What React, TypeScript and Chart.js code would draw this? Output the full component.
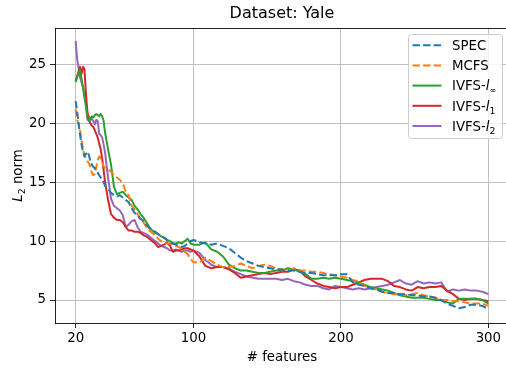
import React, { useEffect, useRef } from "react";
import { Chart, registerables } from "chart.js";
Chart.register(...registerables);

const features = [
  20, 21, 22, 23, 24, 25, 26, 27, 28, 29, 30, 31, 32, 33, 34, 35, 36, 37, 38, 39, 40,
  42, 44, 46, 48, 50, 52, 54, 56, 58, 60, 62, 64, 66, 68, 70, 72, 74, 76, 78, 80, 82, 84, 86, 88, 90, 92, 94, 96, 98, 100,
  104, 108, 112, 116, 120, 124, 128, 132, 136, 140, 144, 148, 152, 156, 160, 164, 168, 172, 176, 180, 184, 188, 192, 196, 200,
  204, 208, 212, 216, 220, 224, 228, 232, 236, 240, 244, 248, 252, 256, 260, 264, 268, 272, 276, 280, 284, 288, 292, 296, 300,
];

const spec = [
  21.9, 21.0, 20.0, 19.0, 18.2, 17.6, 17.2, 17.4, 17.6, 17.3, 16.8, 16.5, 16.3, 16.2, 16.0, 15.8, 15.6, 15.4, 15.2, 15.0, 14.7,
  14.4, 14.1, 13.9, 13.8, 13.9, 13.7, 13.5, 13.3, 12.8, 12.4, 12.2, 11.9, 11.7, 11.4, 11.1, 10.9, 10.8, 10.6, 10.4, 10.3, 10.1, 9.9, 9.8, 9.7, 9.6, 9.5, 9.6, 9.8, 10.0, 10.1,
  9.9, 9.8, 9.7, 9.8, 9.6, 9.4, 9.0, 8.6, 8.3, 8.1, 7.9, 7.8, 7.7, 7.6, 7.6, 7.5, 7.5, 7.4, 7.3, 7.3, 7.2, 7.1, 7.1, 7.1, 7.2,
  7.2, 6.5, 6.3, 6.2, 6.0, 5.9, 5.7, 5.6, 5.6, 5.5, 5.5, 5.4, 5.4, 5.3, 5.3, 5.2, 5.0, 4.7, 4.5, 4.3, 4.4, 4.6, 4.6, 4.5, 4.2,
];

const mcfs = [
  21.2, 20.4, 19.9, 19.4, 18.6, 17.8, 17.3, 17.0, 16.8, 16.6, 16.3, 15.8, 15.6, 15.7, 16.3, 16.9, 17.2, 17.0, 16.7, 16.4, 16.2,
  16.1, 15.9, 15.6, 15.4, 15.2, 14.9, 14.2, 13.9, 13.0, 12.7, 12.3, 11.8, 11.6, 11.2, 10.9, 10.7, 10.5, 10.2, 10.0, 9.9, 9.8, 9.8, 9.7, 9.6, 9.5, 9.3, 9.1, 8.9, 8.5, 8.2,
  8.2, 8.6, 8.3, 8.0, 7.8, 7.8, 7.9, 8.1, 7.9, 7.7, 7.9, 8.0, 7.9, 7.7, 7.6, 7.5, 7.7, 7.5, 7.5, 7.4, 7.4, 7.3, 7.2, 7.1, 7.0,
  6.9, 6.7, 6.6, 6.2, 6.0, 5.9, 5.7, 5.6, 5.5, 5.5, 5.4, 5.5, 5.6, 5.4, 5.3, 5.2, 5.0, 5.0, 4.9, 4.9, 4.8, 4.7, 4.7, 4.7, 4.5,
];

const ivfsInf = [
  23.5, 23.9, 24.3, 24.5, 23.8, 23.0, 22.2, 21.4, 20.6, 20.2, 20.4, 20.6, 20.5, 20.7, 20.8, 20.7, 20.6, 20.8, 20.6, 20.2, 19.2,
  17.8, 16.5, 14.6, 14.0, 14.1, 14.2, 13.9, 13.7, 13.5, 13.0, 12.7, 12.3, 12.0, 11.6, 11.2, 10.9, 10.7, 10.6, 10.4, 10.3, 10.1, 10.0, 9.8, 9.8, 9.9, 9.8, 10.0, 10.2, 9.8, 9.7,
  9.7, 9.9, 9.3, 9.1, 8.7, 8.0, 7.7, 7.5, 7.5, 7.4, 7.3, 7.3, 7.4, 7.5, 7.5, 7.7, 7.6, 7.4, 7.2, 6.8, 6.8, 6.9, 6.8, 6.9, 6.8,
  6.7, 6.6, 6.5, 6.3, 6.1, 6.0, 5.9, 5.8, 5.6, 5.4, 5.3, 5.2, 5.2, 5.2, 5.1, 5.0, 5.0, 4.8, 4.7, 5.1, 5.1, 5.1, 5.1, 5.0, 4.7,
];

const ivfsL1 = [
  23.6, 24.0, 24.4, 24.8, 24.2, 24.8, 24.6, 22.5, 21.0, 20.3, 20.0, 19.8, 19.7, 19.4, 19.1, 18.8, 18.3, 17.8, 17.0, 16.0, 15.0,
  13.5, 12.3, 12.0, 11.8, 11.8, 11.6, 11.2, 10.9, 10.9, 10.8, 10.8, 10.7, 10.5, 10.4, 10.2, 10.0, 9.8, 9.5, 9.6, 9.7, 9.9, 9.6, 9.1, 9.2, 9.2, 9.3, 9.4, 9.4, 9.3, 9.2,
  8.7, 7.9, 7.7, 7.8, 7.8, 7.6, 7.3, 6.9, 7.0, 7.1, 7.2, 7.3, 7.2, 7.3, 7.4, 7.4, 7.6, 7.5, 7.0, 6.7, 6.4, 6.2, 6.1, 6.0, 6.1,
  6.1, 6.3, 6.5, 6.7, 6.8, 6.8, 6.8, 6.6, 6.2, 6.1, 5.9, 5.8, 6.1, 6.0, 6.1, 6.1, 6.2, 5.8, 5.5, 5.1, 5.0, 5.1, 5.1, 5.0, 4.9,
];

const ivfsL2 = [
  27.0, 25.5, 24.7, 23.9, 23.5, 23.1, 22.4, 21.7, 20.3, 20.6, 20.3, 20.4, 20.2, 19.9, 20.3, 20.2, 19.1, 19.0, 18.8, 18.2, 17.5,
  15.4, 13.6, 13.0, 12.8, 12.6, 12.2, 11.2, 11.4, 11.7, 11.8, 11.2, 10.8, 10.7, 10.6, 10.4, 10.2, 10.0, 9.8, 9.6, 9.5, 9.4, 9.2, 9.2, 9.3, 9.2, 9.1, 9.2, 9.2, 9.1, 9.2,
  9.0, 8.4, 8.0, 7.8, 7.8, 7.7, 7.4, 7.2, 7.0, 6.9, 6.8, 6.8, 6.8, 6.8, 6.7, 6.8, 6.6, 6.5, 6.3, 6.2, 6.2, 6.0, 5.9, 6.2, 6.1,
  6.0, 5.9, 6.0, 5.9, 6.0, 6.1, 6.2, 6.3, 6.5, 6.7, 6.4, 6.3, 6.6, 6.4, 6.5, 6.4, 6.5, 5.7, 5.9, 5.8, 5.9, 5.8, 5.8, 5.7, 5.5,
];

const xTicks = [20, 100, 200, 300];
const yTicks = [5, 10, 15, 20, 25];

const seriesNames = ["SPEC", "MCFS", "IVFS-l∞", "IVFS-l1", "IVFS-l2"];
const seriesColors = ["#1f77b4", "#ff7f0e", "#2ca02c", "#d62728", "#9467bd"];
const seriesDashed = [true, true, false, false, false];

const FONT = "'DejaVu Sans', sans-serif";
const DASH = [7.4, 3.2];

type Seg = { t: string; italic?: boolean; sub?: boolean; size?: number };

function drawSegs(ctx: CanvasRenderingContext2D, segs: Seg[], x: number, y: number, size: number, align: "left" | "center") {
  const fontOf = (s: Seg) => {
    const sz = s.size ?? (s.sub ? size * 0.7 : size);
    return `${s.italic ? "italic " : ""}${sz}px ${FONT}`;
  };
  let total = 0;
  for (const s of segs) {
    ctx.font = fontOf(s);
    total += ctx.measureText(s.t).width;
  }
  let cx = align === "center" ? x - total / 2 : x;
  ctx.textAlign = "left";
  ctx.textBaseline = "alphabetic";
  for (const s of segs) {
    ctx.font = fontOf(s);
    ctx.fillText(s.t, cx, y + (s.sub ? size * 0.22 : 0));
    cx += ctx.measureText(s.t).width;
  }
}

const legendLabels: Seg[][] = [
  [{ t: "SPEC" }],
  [{ t: "MCFS" }],
  [{ t: "IVFS-" }, { t: "l", italic: true }, { t: "∞", sub: true, size: 8 }],
  [{ t: "IVFS-" }, { t: "l", italic: true }, { t: "1", sub: true }],
  [{ t: "IVFS-" }, { t: "l", italic: true }, { t: "2", sub: true }],
];

export default function App() {
  const ref = useRef<HTMLCanvasElement>(null);
  useEffect(() => {
    document.body.style.margin = "0";
    const canvas = ref.current!;
    const series = [spec, mcfs, ivfsInf, ivfsL1, ivfsL2];
    const overlay = {
      id: "overlay",
      afterDraw(chart: any) {
        const ctx: CanvasRenderingContext2D = chart.ctx;
        const a = chart.chartArea;
        ctx.save();
        // top and right spines
        ctx.strokeStyle = "#222";
        ctx.lineWidth = 1;
        ctx.beginPath();
        ctx.moveTo(a.left, a.top + 0.5);
        ctx.lineTo(a.right, a.top + 0.5);
        ctx.moveTo(a.right - 0.5, a.top);
        ctx.lineTo(a.right - 0.5, a.bottom);
        ctx.stroke();
        ctx.fillStyle = "#000";
        // title
        drawSegs(ctx, [{ t: "Dataset: Yale" }], (a.left + a.right) / 2, 18, 16, "center");
        // x label
        drawSegs(ctx, [{ t: "# features" }], (a.left + a.right) / 2, 361, 13.33, "center");
        // y label
        ctx.save();
        ctx.translate(22, (a.top + a.bottom) / 2);
        ctx.rotate(-Math.PI / 2);
        drawSegs(ctx, [{ t: "L", italic: true }, { t: "2", sub: true }, { t: " norm" }], 0, 0, 13.33, "center");
        ctx.restore();
        // legend
        const bx = 408.5, by = 34.5, bw = 94, bh = 104;
        ctx.beginPath();
        (ctx as any).roundRect(bx, by, bw, bh, 3);
        ctx.fillStyle = "rgba(255,255,255,0.8)";
        ctx.fill();
        ctx.strokeStyle = "#cccccc";
        ctx.lineWidth = 1;
        ctx.stroke();
        for (let i = 0; i < seriesNames.length; i++) {
          const ly = 45.2 + i * 20.2;
          ctx.beginPath();
          ctx.strokeStyle = seriesColors[i];
          ctx.lineWidth = 2;
          ctx.setLineDash(seriesDashed[i] ? DASH : []);
          ctx.moveTo(412.5, ly);
          ctx.lineTo(441.5, ly);
          ctx.stroke();
          ctx.setLineDash([]);
          ctx.fillStyle = "#000";
          drawSegs(ctx, legendLabels[i], 452, ly + 4.8, 13.33, "left");
        }
        ctx.restore();
      },
    };
    const chart = new Chart(canvas, {
      type: "line",
      data: {
        datasets: series.map((arr, i) => ({
          label: seriesNames[i],
          data: features.map((x, j) => ({ x, y: arr[j] })),
          borderColor: seriesColors[i],
          backgroundColor: seriesColors[i],
          borderWidth: 2,
          borderDash: seriesDashed[i] ? DASH : [],
          borderJoinStyle: "round",
          pointRadius: 0,
          tension: 0,
          fill: false,
        })),
      },
      options: {
        responsive: false,
        devicePixelRatio: 1,
        animation: false,
        layout: { padding: { left: 0, right: 3, top: 28, bottom: 0 } },
        plugins: { legend: { display: false }, title: { display: false }, tooltip: { enabled: false } },
        scales: {
          x: {
            type: "linear",
            min: 6,
            max: 314,
            afterBuildTicks: (s: any) => {
              s.ticks = xTicks.map((v) => ({ value: v }));
            },
            afterFit: (s: any) => {
              s.height = 45;
            },
            grid: { color: "#c0c0c0", lineWidth: 1, drawTicks: true, tickLength: 5, tickColor: "#222", tickWidth: 1 },
            border: { color: "#222", width: 1 },
            ticks: { font: { family: FONT, size: 13.33 }, color: "#000", padding: 3, maxRotation: 0, autoSkip: false },
          },
          y: {
            type: "linear",
            min: 3.05,
            max: 28.1,
            afterBuildTicks: (s: any) => {
              s.ticks = yTicks.map((v) => ({ value: v }));
            },
            afterFit: (s: any) => {
              s.width = 55;
            },
            grid: { color: "#c0c0c0", lineWidth: 1, drawTicks: true, tickLength: 5, tickColor: "#222", tickWidth: 1 },
            border: { color: "#222", width: 1 },
            ticks: { font: { family: FONT, size: 13.33 }, color: "#000", padding: 4, autoSkip: false },
          },
        },
      },
      plugins: [overlay],
    } as any);
    return () => chart.destroy();
  }, []);
  return (
    <div style={{ width: 506, height: 368, overflow: "hidden", position: "relative" }}>
      <canvas ref={ref} width={512} height={368} style={{ width: 512, height: 368, display: "block" }} />
    </div>
  );
}
